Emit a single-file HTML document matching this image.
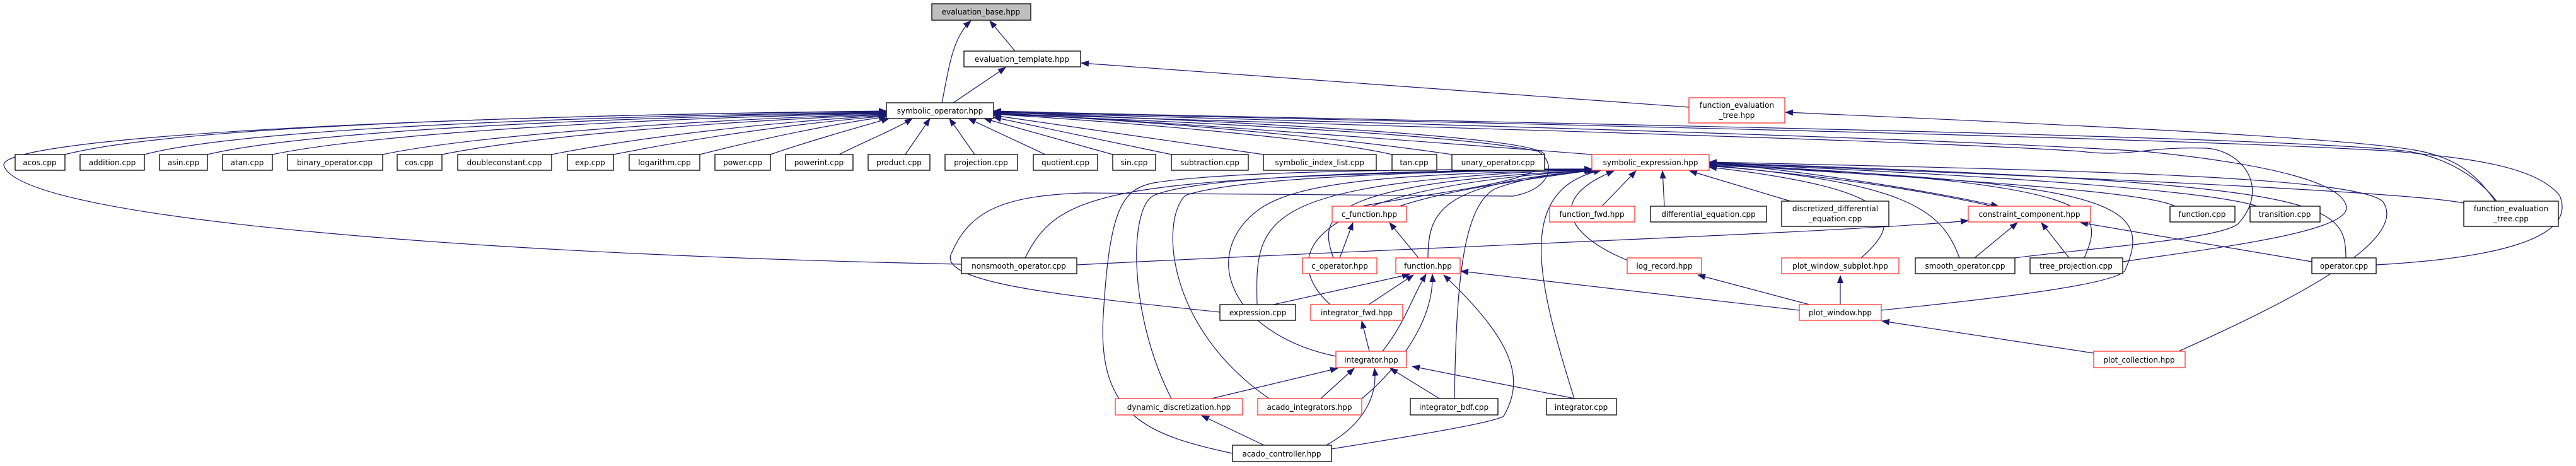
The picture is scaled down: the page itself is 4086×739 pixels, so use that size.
<!DOCTYPE html>
<html><head><meta charset="utf-8"><style>
html,body{margin:0;padding:0;background:#fff;width:4086px;height:739px;overflow:hidden}
svg{display:block}
text{font-family:"DejaVu Sans","Liberation Sans",sans-serif;font-size:12px;fill:#000;text-anchor:middle}
.e{fill:none;stroke:#191970;stroke-width:1.2;marker-end:url(#a)}
.b{fill:#fff;stroke:#000;stroke-width:1.3}
.r{fill:#fff;stroke:#ff3333;stroke-width:1.3}
</style></head><body>
<svg width="4086" height="739" viewBox="0 0 4086 739" xmlns="http://www.w3.org/2000/svg">
<defs><marker id="a" markerUnits="userSpaceOnUse" markerWidth="13" markerHeight="10" refX="12" refY="5" orient="auto"><path d="M0,0 L13,5 L0,10 z" fill="#191970"/></marker></defs>
<g>
<path class="e" d="M1610,81 L1570,33"/>
<path class="e" d="M1494,163 C1505,110 1510,60 1540,33"/>
<path class="e" d="M1512,163 L1595,107"/>
<path class="e" d="M2679,170 L1715,100"/>
<path class="e" d="M3958,319 C3930,280 3900,250 3830,238 C3700,215 3100,190 2832,178"/>
<path class="e" d="M103,245 C300,195 1000,180 1406,177"/>
<path class="e" d="M229,245 C400,200 1000,183 1406,178"/>
<path class="e" d="M329,245 C500,205 1000,185 1406,179"/>
<path class="e" d="M432,245 C600,210 1050,186 1406,180"/>
<path class="e" d="M607,245 C750,215 1100,190 1406,181"/>
<path class="e" d="M701,245 C850,215 1150,192 1406,182"/>
<path class="e" d="M875,245 C1000,220 1200,195 1406,183"/>
<path class="e" d="M973,245 C1100,220 1250,197 1406,184"/>
<path class="e" d="M1110,245 C1200,222 1300,200 1406,185"/>
<path class="e" d="M1222,245 C1280,225 1350,205 1410,188"/>
<path class="e" d="M1331,245 C1370,225 1420,205 1447,188"/>
<path class="e" d="M1436,245 L1475,188"/>
<path class="e" d="M1546,245 L1506,188"/>
<path class="e" d="M1658,245 L1536,188"/>
<path class="e" d="M1765,245 L1561,188"/>
<path class="e" d="M1858,245 L1576,186"/>
<path class="e" d="M2004,245 L1576,183"/>
<path class="e" d="M2208,245 C2100,220 1800,195 1576,181"/>
<path class="e" d="M2303,245 C2100,215 1800,190 1576,180"/>
<path class="e" d="M2525,245 C2200,220 1800,190 1576,179"/>
<path class="e" d="M1525,419 C800,405 30,350 6,262 C0,220 600,185 1406,176"/>
<path class="e" d="M2160,327 C2300,300 2460,290 2450,245 C2440,215 1900,190 1576,178"/>
<path class="e" d="M1935,495 C1700,470 1480,450 1510,400 C1540,330 1600,310 1720,306 L2400,311 C2460,300 2470,260 2440,240 C2300,210 1800,190 1576,181"/>
<path class="e" d="M3196,409 C3300,395 3520,380 3550,355 C3600,300 3560,240 3500,235 C3400,232 3380,250 3300,240 C3000,220 2000,195 1576,180"/>
<path class="e" d="M3367,415 C3500,395 3720,370 3722,330 C3720,290 3600,260 3400,240 C3000,215 2000,190 1576,178"/>
<path class="e" d="M3769,420 C3950,410 4090,380 4060,310 C4020,260 3900,250 3800,240 C3400,215 2000,188 1576,177"/>
<path class="e" d="M3960,319 C3930,280 3880,250 3820,240 C3600,212 2000,188 1576,176"/>
<path class="e" d="M1626,409 C1680,300 1760,280 2525,268"/>
<path class="e" d="M1994,483 C1990,340 2000,290 2525,268"/>
<path class="e" d="M2220,327 C2300,300 2420,285 2525,270"/>
<path class="e" d="M2115,409 C2095,350 2080,290 2528,270"/>
<path class="e" d="M2265,409 C2265,330 2290,290 2530,270"/>
<path class="e" d="M2110,483 C2040,420 2030,300 2527,270"/>
<path class="e" d="M2119,565 C1950,530 1900,400 2000,330 C2060,290 2200,275 2527,270"/>
<path class="e" d="M1858,632 C1790,500 1790,330 1830,310 C1900,280 2200,270 2525,269"/>
<path class="e" d="M2013,632 C1850,520 1840,350 1880,310 C1950,285 2200,272 2525,269"/>
<path class="e" d="M1955,719 C1820,690 1740,660 1750,500 C1760,330 1780,300 1830,290 C1950,270 2300,268 2525,268"/>
<path class="e" d="M2307,632 C2310,450 2320,330 2370,300 C2420,280 2480,275 2532,270"/>
<path class="e" d="M2497,632 C2440,450 2400,300 2540,270"/>
<path class="e" d="M2582,413 C2500,380 2440,320 2560,271"/>
<path class="e" d="M2541,327 L2595,271"/>
<path class="e" d="M2640,327 L2637,271"/>
<path class="e" d="M2840,319 L2680,271"/>
<path class="e" d="M3160,327 C3000,290 2800,270 2711,263"/>
<path class="e" d="M2711,258 C2850,270 3050,300 3170,327"/>
<path class="e" d="M3450,327 C3400,300 3000,280 2711,260"/>
<path class="e" d="M3580,327 C3500,300 3100,275 2711,259"/>
<path class="e" d="M3908,322 C3800,300 3000,270 2711,258"/>
<path class="e" d="M2952,409 C3020,350 3020,300 2711,265"/>
<path class="e" d="M3108,409 C3080,330 3020,290 2711,262"/>
<path class="e" d="M3306,409 C3340,330 3340,290 2711,260"/>
<path class="e" d="M3721,409 C3720,320 3700,290 2711,258"/>
<path class="e" d="M3456,557 C3650,470 3820,380 3780,320 C3740,280 3300,270 2711,257"/>
<path class="e" d="M2984,492 C3200,470 3350,450 3370,430 C3420,320 3350,290 2711,262"/>
<path class="e" d="M2125,409 L2146,353"/>
<path class="e" d="M2250,409 L2204,353"/>
<path class="e" d="M2020,483 L2236,435"/>
<path class="e" d="M2171,483 L2242,436"/>
<path class="e" d="M2193,557 C2230,510 2240,470 2262,435"/>
<path class="e" d="M2160,632 C2200,600 2275,520 2272,435"/>
<path class="e" d="M2112,712 C2250,690 2370,670 2385,660 C2420,600 2400,540 2290,436"/>
<path class="e" d="M2854,492 L2317,430"/>
<path class="e" d="M2172,557 L2160,509"/>
<path class="e" d="M1922,632 L2122,584"/>
<path class="e" d="M2095,632 L2148,584"/>
<path class="e" d="M2283,632 L2205,584"/>
<path class="e" d="M2498,632 L2240,581"/>
<path class="e" d="M2102,707 C2170,670 2185,620 2180,584"/>
<path class="e" d="M2005,706 L1906,659"/>
<path class="e" d="M1708,420 C2300,390 2900,370 3122,350"/>
<path class="e" d="M3132,409 L3200,353"/>
<path class="e" d="M3282,409 L3238,353"/>
<path class="e" d="M3667,415 L3300,353"/>
<path class="e" d="M2870,483 L2693,436"/>
<path class="e" d="M2919,483 L2919,437"/>
<path class="e" d="M3321,560 L2985,509"/>
</g>
<g>
<rect x="1478" y="6" width="157" height="26" fill="#bfbfbf" stroke="#000" stroke-width="1.3"/><text x="1556" y="23">evaluation_base.hpp</text>
<rect class="b" x="1529" y="81" width="185" height="25"/><text x="1621" y="98">evaluation_template.hpp</text>
<rect class="b" x="1406" y="163" width="170" height="25"/><text x="1491" y="180">symbolic_operator.hpp</text>
<rect class="r" x="2679" y="155" width="152" height="40"/><text x="2755" y="171">function_evaluation</text><text x="2755" y="187">_tree.hpp</text>

<rect class="b" x="24" y="245" width="79" height="25"/><text x="63" y="262">acos.cpp</text>
<rect class="b" x="127" y="245" width="102" height="25"/><text x="178" y="262">addition.cpp</text>
<rect class="b" x="253" y="245" width="76" height="25"/><text x="291" y="262">asin.cpp</text>
<rect class="b" x="353" y="245" width="79" height="25"/><text x="392" y="262">atan.cpp</text>
<rect class="b" x="456" y="245" width="151" height="25"/><text x="531" y="262">binary_operator.cpp</text>
<rect class="b" x="630" y="245" width="71" height="25"/><text x="665" y="262">cos.cpp</text>
<rect class="b" x="726" y="245" width="149" height="25"/><text x="800" y="262">doubleconstant.cpp</text>
<rect class="b" x="900" y="245" width="73" height="25"/><text x="936" y="262">exp.cpp</text>
<rect class="b" x="998" y="245" width="112" height="25"/><text x="1054" y="262">logarithm.cpp</text>
<rect class="b" x="1134" y="245" width="88" height="25"/><text x="1178" y="262">power.cpp</text>
<rect class="b" x="1246" y="245" width="107" height="25"/><text x="1299" y="262">powerint.cpp</text>
<rect class="b" x="1377" y="245" width="98" height="25"/><text x="1426" y="262">product.cpp</text>
<rect class="b" x="1499" y="245" width="115" height="25"/><text x="1556" y="262">projection.cpp</text>
<rect class="b" x="1639" y="245" width="102" height="25"/><text x="1690" y="262">quotient.cpp</text>
<rect class="b" x="1765" y="245" width="68" height="25"/><text x="1799" y="262">sin.cpp</text>
<rect class="b" x="1858" y="245" width="122" height="25"/><text x="1919" y="262">subtraction.cpp</text>
<rect class="b" x="2004" y="245" width="179" height="25"/><text x="2093" y="262">symbolic_index_list.cpp</text>
<rect class="b" x="2208" y="245" width="71" height="25"/><text x="2243" y="262">tan.cpp</text>
<rect class="b" x="2303" y="245" width="147" height="25"/><text x="2376" y="262">unary_operator.cpp</text>
<rect class="r" x="2525" y="245" width="186" height="25"/><text x="2618" y="262">symbolic_expression.hpp</text>

<rect class="r" x="2113" y="327" width="118" height="25"/><text x="2172" y="344">c_function.hpp</text>
<rect class="r" x="2458" y="327" width="135" height="25"/><text x="2525" y="344">function_fwd.hpp</text>
<rect class="b" x="2618" y="327" width="184" height="25"/><text x="2710" y="344">differential_equation.cpp</text>
<rect class="b" x="2826" y="319" width="170" height="40"/><text x="2911" y="335">discretized_differential</text><text x="2911" y="351">_equation.cpp</text>
<rect class="r" x="3122" y="327" width="194" height="25"/><text x="3219" y="344">constraint_component.hpp</text>
<rect class="b" x="3442" y="327" width="103" height="25"/><text x="3493" y="344">function.cpp</text>
<rect class="b" x="3569" y="327" width="111" height="25"/><text x="3624" y="344">transition.cpp</text>
<rect class="b" x="3908" y="319" width="150" height="40"/><text x="3983" y="335">function_evaluation</text><text x="3983" y="351">_tree.cpp</text>

<rect class="b" x="1525" y="409" width="183" height="25"/><text x="1616" y="426">nonsmooth_operator.cpp</text>
<rect class="r" x="2066" y="409" width="118" height="25"/><text x="2125" y="426">c_operator.hpp</text>
<rect class="r" x="2214" y="409" width="102" height="25"/><text x="2265" y="426">function.hpp</text>
<rect class="r" x="2581" y="409" width="118" height="25"/><text x="2640" y="426">log_record.hpp</text>
<rect class="r" x="2826" y="409" width="186" height="25"/><text x="2919" y="426">plot_window_subplot.hpp</text>
<rect class="b" x="3038" y="409" width="158" height="25"/><text x="3117" y="426">smooth_operator.cpp</text>
<rect class="b" x="3220" y="409" width="147" height="25"/><text x="3293" y="426">tree_projection.cpp</text>
<rect class="b" x="3667" y="409" width="102" height="25"/><text x="3718" y="426">operator.cpp</text>

<rect class="b" x="1935" y="483" width="120" height="25"/><text x="1995" y="500">expression.cpp</text>
<rect class="r" x="2079" y="483" width="146" height="25"/><text x="2152" y="500">integrator_fwd.hpp</text>
<rect class="r" x="2854" y="483" width="130" height="25"/><text x="2919" y="500">plot_window.hpp</text>

<rect class="r" x="2119" y="557" width="112" height="26"/><text x="2175" y="575">integrator.hpp</text>
<rect class="r" x="3321" y="557" width="145" height="26"/><text x="3393" y="575">plot_collection.hpp</text>

<rect class="r" x="1769" y="632" width="202" height="26"/><text x="1870" y="650">dynamic_discretization.hpp</text>
<rect class="r" x="1995" y="632" width="165" height="26"/><text x="2077" y="650">acado_integrators.hpp</text>
<rect class="b" x="2237" y="632" width="139" height="26"/><text x="2306" y="650">integrator_bdf.cpp</text>
<rect class="b" x="2453" y="632" width="111" height="26"/><text x="2508" y="650">integrator.cpp</text>

<rect class="b" x="1955" y="706" width="157" height="26"/><text x="2033" y="724">acado_controller.hpp</text>
</g>
</svg>
</body></html>
